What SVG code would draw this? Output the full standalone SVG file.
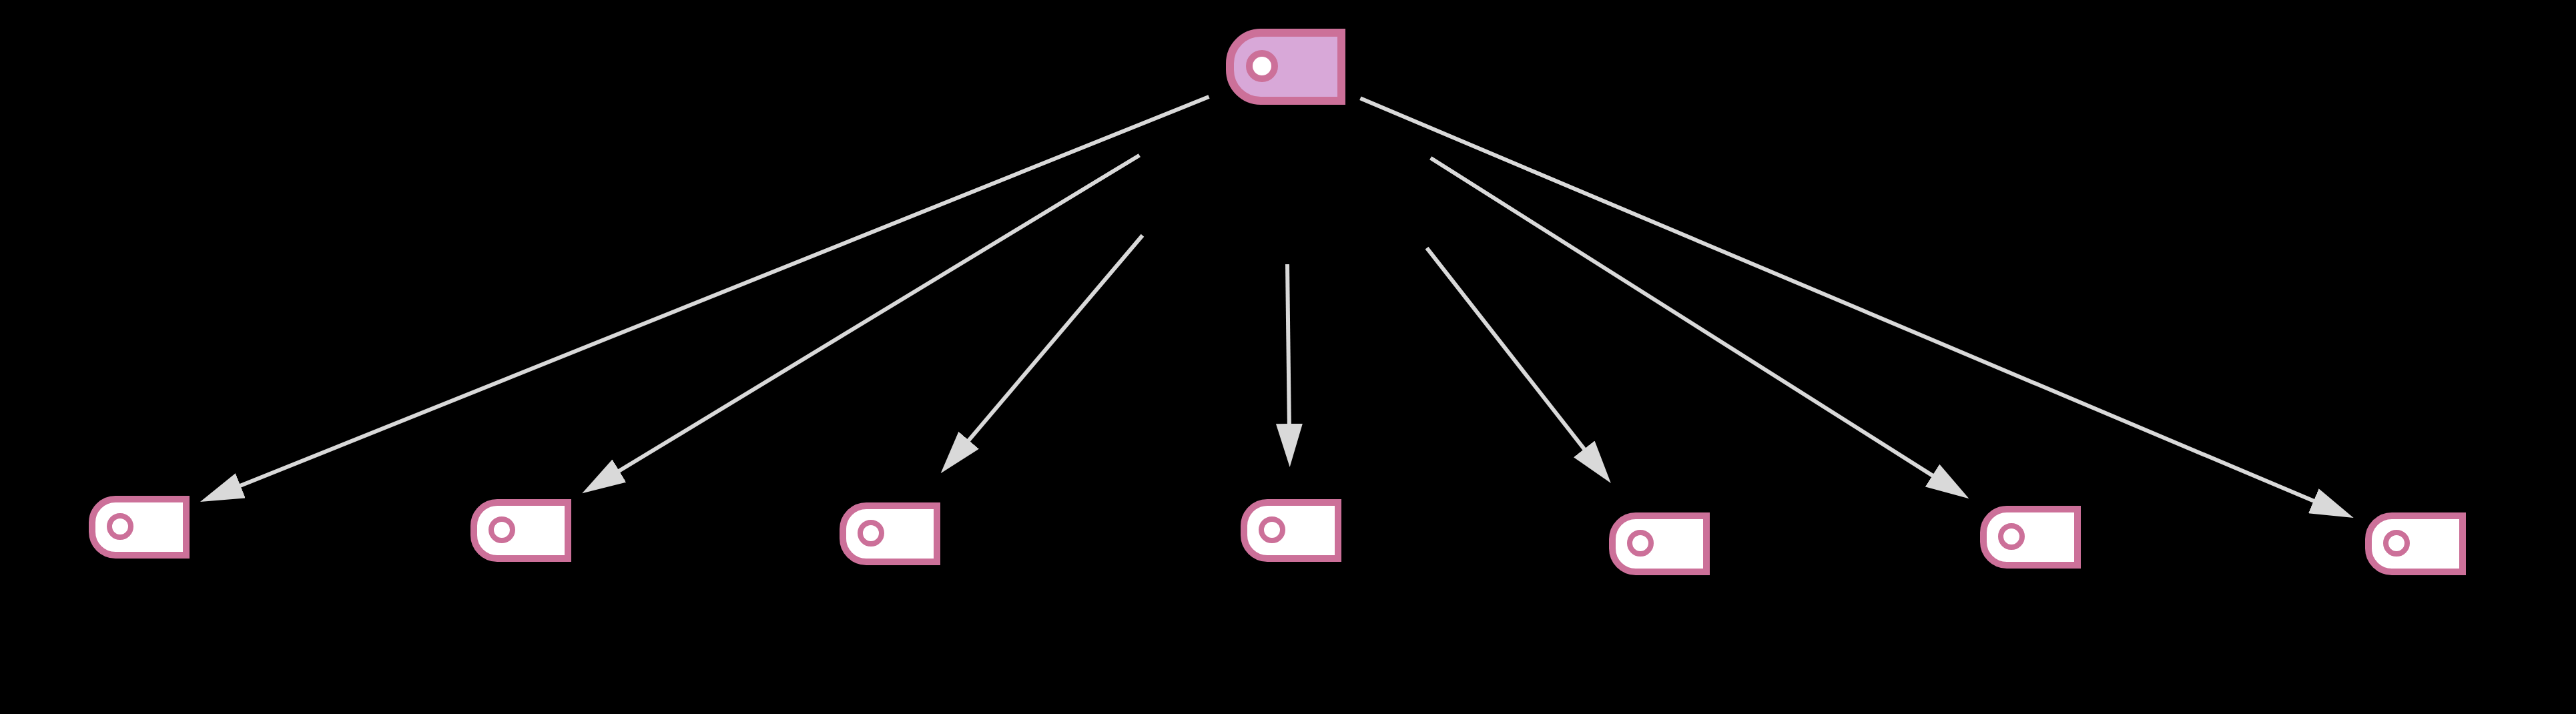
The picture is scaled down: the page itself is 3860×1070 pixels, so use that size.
<svg xmlns="http://www.w3.org/2000/svg" width="3860" height="1070" viewBox="0 0 3860 1070">
<style>
.node{stroke:#cc7099;stroke-width:10;fill:#ffffff}
.root{stroke:#cc7099;stroke-width:12;fill:#d8a8d8}
.dot{stroke:#cc7099;stroke-width:8;fill:#ffffff}
.rdot{stroke:#cc7099;stroke-width:10;fill:#ffffff}
.edge{stroke:#d9d9d9;stroke-width:6;fill:none;marker-end:url(#arrow)}
</style>
<defs>
<marker id="arrow" markerUnits="userSpaceOnUse" markerWidth="65" markerHeight="40" refX="10" refY="20" orient="auto" viewBox="0 0 65 40">
<path d="M0,0 L65,20 L0,40 Z" fill="#d9d9d9"/>
</marker>
<g id="leaf">
<path class="node" d="M40,5 H146 V89 H40 A35,35 0 0 1 5,54 V40 A35,35 0 0 1 40,5 Z"/>
<circle class="dot" cx="47" cy="46" r="16"/>
</g>
</defs>
<rect x="0" y="0" width="3860" height="1070" fill="#000000"/>
<g id="connectors">
<line class="edge" x1="1811.5" y1="145" x2="351" y2="731.5"/>
<line class="edge" x1="1707.4" y1="232.7" x2="919.3" y2="710.8"/>
<line class="edge" x1="1712" y1="352.7" x2="1445.2" y2="667.4"/>
<line class="edge" x1="1929" y1="396" x2="1932" y2="645"/>
<line class="edge" x1="2138" y1="371.7" x2="2379.9" y2="680.7"/>
<line class="edge" x1="2143.7" y1="236.7" x2="2904" y2="717.9"/>
<line class="edge" x1="2038.4" y1="147.3" x2="3476" y2="754.6"/>
</g>
<g id="root">
<path class="root" d="M1889,49 H2010 V151 H1889 A46,46 0 0 1 1843,105 V95 A46,46 0 0 1 1889,49 Z"/>
<circle class="rdot" cx="1891" cy="99" r="19"/>
</g>
<g id="n1"><use href="#leaf" x="133" y="743"/></g>
<g id="n2"><use href="#leaf" x="705" y="748"/></g>
<g id="n3"><use href="#leaf" x="1258" y="753"/></g>
<g id="n4"><use href="#leaf" x="1859" y="748"/></g>
<g id="n5"><use href="#leaf" x="2411" y="768"/></g>
<g id="n6"><use href="#leaf" x="2967" y="758"/></g>
<g id="n7"><use href="#leaf" x="3544" y="768"/></g>
</svg>
